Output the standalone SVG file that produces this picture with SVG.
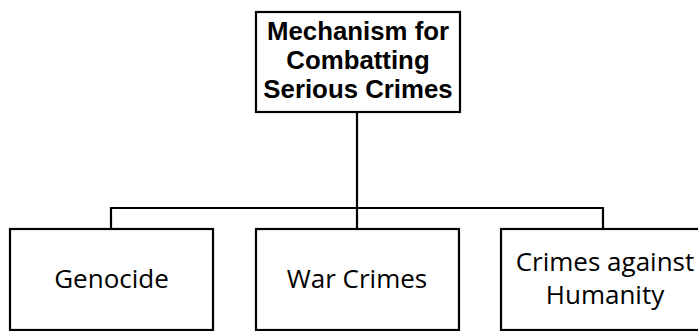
<svg xmlns="http://www.w3.org/2000/svg" width="698" height="331" viewBox="0 0 698 331">
<style>
.box{fill:#fff;stroke:#000;stroke-width:2.2}
.conn{fill:none;stroke:#000;stroke-width:2.2}
.t{fill:#000;text-anchor:middle}
.tb{font-family:"Liberation Sans",Arial,sans-serif;font-size:25.8px;font-weight:bold}
.tr{font-family:"Open Sans","Liberation Sans",sans-serif;font-size:26px}
</style>
<rect width="698" height="331" fill="#fff"/>
<g id="connectors">
<path class="conn" d="M357 112 V229"/>
<path class="conn" d="M111 229 V208 H603 V229"/>
</g>
<g id="root">
<rect class="box" x="256" y="12" width="204" height="100"/>
<text class="t tb"><tspan x="358" y="39.5">Mechanism for</tspan><tspan x="358" y="68.5">Combatting</tspan><tspan x="358" y="97.5">Serious Crimes</tspan></text>
</g>
<g id="genocide">
<rect class="box" x="10" y="229" width="203" height="101"/>
<text class="t tr" x="111.5" y="288">Genocide</text>
</g>
<g id="war-crimes">
<rect class="box" x="256" y="229" width="203" height="101"/>
<text class="t tr" x="357" y="288">War Crimes</text>
</g>
<g id="crimes-against-humanity">
<rect class="box" x="501" y="229" width="204" height="101"/>
<text class="t tr"><tspan x="605" y="271">Crimes against</tspan><tspan x="605" y="304">Humanity</tspan></text>
</g>
</svg>
